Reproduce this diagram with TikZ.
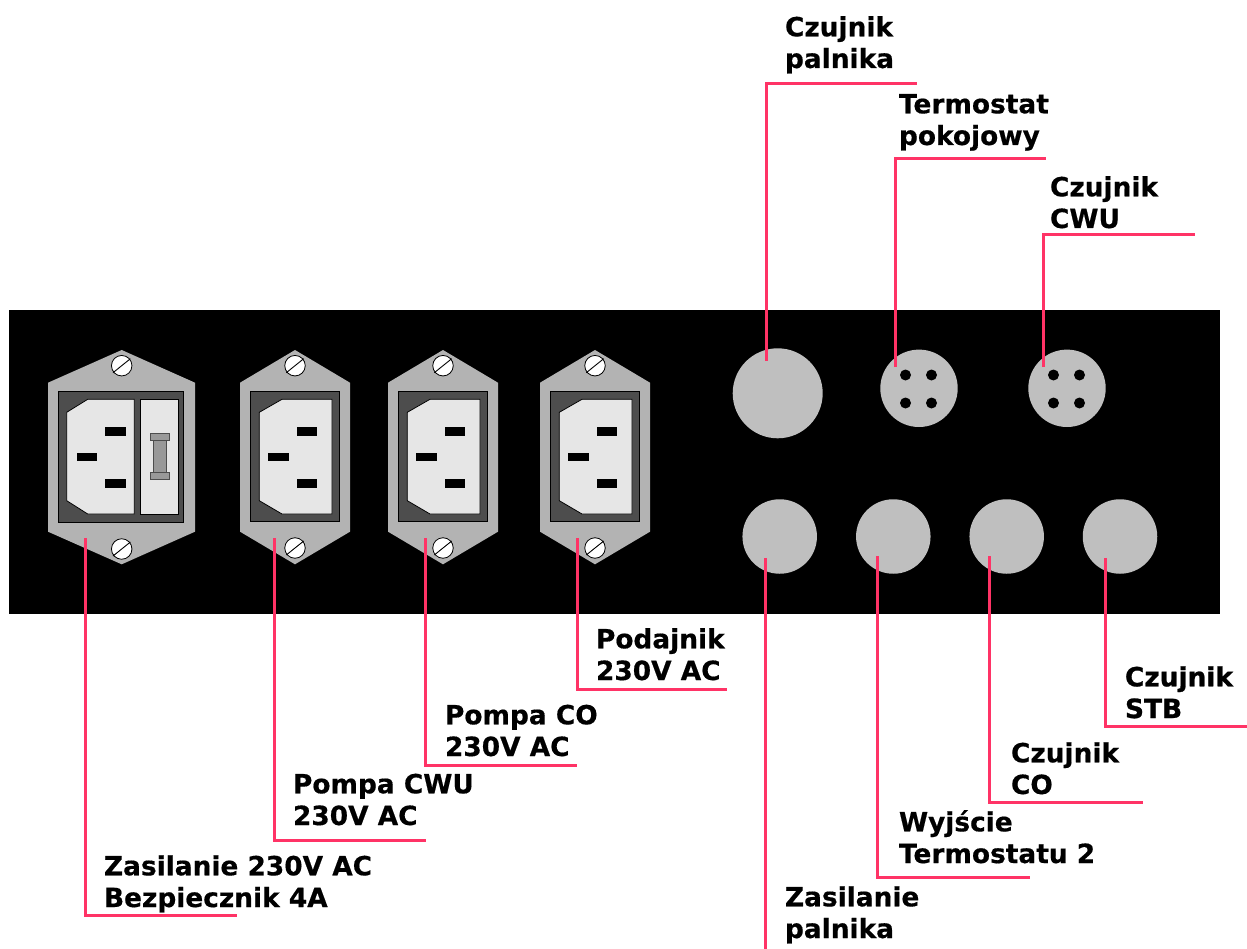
\documentclass[tikz,border=0pt]{standalone}
\usepackage{fontspec}
\setmainfont[BoldFeatures={FakeBold=0.5}]{DejaVu Sans}
\newfontfamily\heavyface[BoldFeatures={FakeBold=1.0}]{DejaVu Sans}
\definecolor{lead}{HTML}{FF3366}
\definecolor{plate}{HTML}{B3B3B3}
\definecolor{wella}{HTML}{4D4D4D}
\definecolor{sock}{HTML}{E6E6E6}
\definecolor{conn}{HTML}{BFBFBF}
\definecolor{fusec}{HTML}{999999}
\tikzset{
  leader/.style={draw=lead,line width=3pt,line cap=butt,line join=miter},
  lbl/.style={anchor=base west,inner sep=0pt,outer sep=0pt,font=\fontsize{26.4pt}{31.7pt}\selectfont\bfseries,align=left,text=black},
  thin line/.style={draw=black,line width=0.8pt},
  platebody/.style={fill=plate,draw=none},
  recess/.style={fill=wella,thin line},
  socket/.style={fill=sock,thin line},
  pin/.style={fill=black,draw=none},
  fuse part/.style={fill=fusec,draw=wella,line width=0.8pt},
  screw/.style={circle,fill=white,thin line,minimum size=20.5pt,inner sep=0pt},
  gland/.style={circle,fill=conn,draw=none,inner sep=0pt},
  hole/.style={circle,fill=black,draw=none,minimum size=11pt,inner sep=0pt}
}
\newcommand{\screwat}[3]{%
  \node[screw] (#1) at (#2,#3) {};
  \draw[black,line width=0.9pt] (#2-8.7,#3+7) -- (#2+8.7,#3-7);}
\newcommand{\socketpins}[1]{%
  \fill[pin] (#1+1.7,427) rectangle (#1+22.3,435.5);
  \fill[pin] (#1-26.7,452.7) rectangle (#1-6,461);
  \fill[pin] (#1+1.7,479.3) rectangle (#1+22.3,487.7);}
\newcommand{\plainsocket}[2]{%
  \fill[platebody] (#2,350) -- (#2+55,382.7) -- (#2+55,531.7) -- (#2,564.3) -- (#2-55,531.7) -- (#2-55,382.7) -- cycle;
  \path[recess] (#2-45,391.5) rectangle (#2+44.7,521.7);
  \path[socket] (#2-13,399.3) -- (#2-35.7,412.3) -- (#2-35.7,500.7) -- (#2-13,514) -- (#2+37,514) -- (#2+37,399.3) -- cycle;
  \socketpins{#2}
  \screwat{#1t}{#2}{365.7}
  \screwat{#1b}{#2}{548}}
\begin{document}
\begin{tikzpicture}[x=1pt,y=-1pt]
\useasboundingbox (0,0) rectangle (1247,949);
\fill[white] (0,0) rectangle (1247,949);
\node[draw=none,fill=black,minimum width=1211pt,minimum height=304pt,inner sep=0pt,outer sep=0pt] (panel) at (614.5,462) {};
% fused inlet
\fill[platebody] (121.7,350) -- (195,382.7) -- (195,531.7) -- (121.7,564.3) -- (48,531.7) -- (48,382.7) -- cycle;
\path[recess] (58,391.7) rectangle (183.7,522.3);
\path[socket] (87.7,399.3) -- (66.7,412.3) -- (66.7,500.7) -- (87.7,514) -- (134.3,514) -- (134.3,399.3) -- cycle;
\path[socket] (140.3,399.3) rectangle (178.3,514);
\socketpins{103.3}
\path[fuse part] (153.3,440) rectangle (166.7,472.7);
\path[fuse part] (150.3,433.3) rectangle (169.3,440);
\path[fuse part] (150.3,472.7) rectangle (169.3,479.3);
\screwat{sAt}{121.7}{365.7}
\screwat{sAb}{121.7}{549}
% plain inlets
\plainsocket{sB}{295}
\plainsocket{sC}{443}
\plainsocket{sD}{595}
% connectors
\node[gland,minimum size=90pt] (burner) at (777.7,393.3) {};
\node[gland,minimum size=77.4pt] (room) at (919,388.3) {};
\node[gland,minimum size=77.4pt] (dhw) at (1067,388.3) {};
\foreach \c/\n in {919/r,1067/d}{
  \node[hole] (\n1) at (\c-13.5,375) {};
  \node[hole] (\n2) at (\c+12.5,375) {};
  \node[hole] (\n3) at (\c-13.5,403) {};
  \node[hole] (\n4) at (\c+12.5,403) {};
}
\node[gland,minimum size=74.5pt] (burnerpower) at (779.7,536.5) {};
\node[gland,minimum size=74.5pt] (thermo) at (893.3,536.5) {};
\node[gland,minimum size=74.5pt] (co) at (1006.7,536.5) {};
\node[gland,minimum size=74.5pt] (stb) at (1120,536.5) {};
% leader anchors
\coordinate (a1) at (766,361);
\coordinate (e1) at (917,84);
\coordinate (a2) at (895,367);
\coordinate (e2) at (1046,159);
\coordinate (a3) at (1043,367);
\coordinate (e3) at (1195,235);
\coordinate (a4) at (85,538);
\coordinate (e4) at (237,915);
\coordinate (a5) at (274,538);
\coordinate (e5) at (426,840);
\coordinate (a6) at (425,538);
\coordinate (e6) at (577,765);
\coordinate (a7) at (577,538);
\coordinate (e7) at (727,689);
\coordinate (a8) at (765,558);
\coordinate (e8) at (765,949);
\coordinate (a9) at (877,556);
\coordinate (e9) at (1030,877);
\coordinate (a10) at (989,556);
\coordinate (e10) at (1143,802);
\coordinate (a11) at (1105,558);
\coordinate (e11) at (1247,726);
\foreach \i in {1,2,...,7,9,10,11}{\draw[leader] (a\i) |- (e\i);}
\draw[leader] (a8) -- (e8);
% labels
\node[lbl] (t1) at (785,68) {Czujnik\\palnika};
\node[lbl] (t2) at (899,145) {Termostat\\pokojowy};
\node[lbl] (t3) at (1050,228) {Czujnik\\CWU};
\node[lbl] (t4) at (104,907) {Zasilanie 230V AC\\Bezpiecznik 4A};
\node[lbl] (t5) at (293,825) {Pompa CWU\\230V AC};
\node[lbl] (t6) at (445,756) {Pompa CO\\230V AC};
\node[lbl] (t7) at (596,680) {Podajnik\\230V AC};
\node[lbl] (t8) at (785,938) {Zasilanie\\palnika};
\node[lbl] (t9) at (899,863) {Wyjście\\Termostatu 2};
\node[lbl] (t10) at (1011,794) {Czujnik\\CO};
\node[lbl,font=\fontsize{26.4pt}{31.7pt}\selectfont\heavyface\bfseries] (t11) at (1125,718) {Czujnik\\STB};
\end{tikzpicture}
\end{document}
